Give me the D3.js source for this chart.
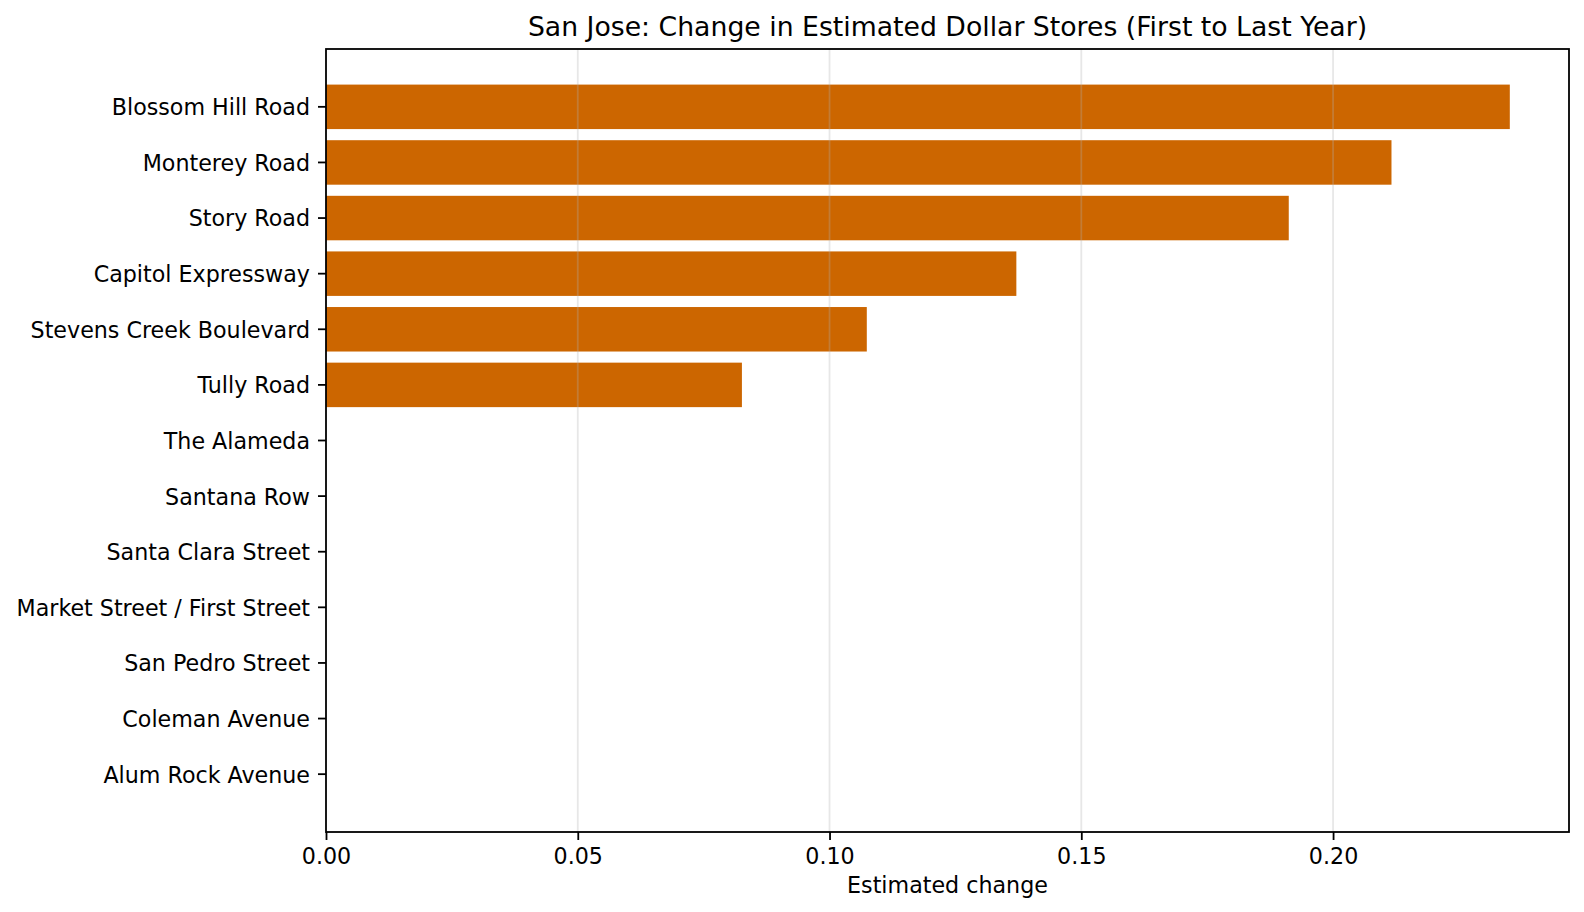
<!DOCTYPE html>
<html lang="en">
<head>
  <meta charset="UTF-8">
  <title>San Jose: Change in Estimated Dollar Stores</title>
  <script src="https://d3js.org/d3.v7.min.js"></script>
  <style>
    body { margin: 0; background: #fff; }
    svg { display: block; font-family: "DejaVu Sans", sans-serif; }
    .axis path, .axis line { stroke: #000; stroke-width: 1.8; }
    .axis text { font-size: 22.2px; fill: #000; font-family: "DejaVu Sans", sans-serif; }
    .grid line { stroke: #b0b0b0; stroke-opacity: 0.3; stroke-width: 1.8; }
  </style>
</head>
<body>
  <svg id="chart" width="1584" height="912"></svg>
  <script>
    // data (top to bottom)
    const corridors = [
      "Blossom Hill Road", "Monterey Road", "Story Road", "Capitol Expressway",
      "Stevens Creek Boulevard", "Tully Road", "The Alameda", "Santana Row",
      "Santa Clara Street", "Market Street / First Street", "San Pedro Street",
      "Coleman Avenue", "Alum Rock Avenue"
    ];
    const changes = [0.2351, 0.2116, 0.1912, 0.1371, 0.1074, 0.0826, 0, 0, 0, 0, 0, 0, 0];
    const xTicks = [0, 0.05, 0.10, 0.15, 0.20];

    const titleText = "San Jose: Change in Estimated Dollar Stores (First to Last Year)";
    const xLabel = "Estimated change";

    const plot = { left: 326, right: 1569, top: 49, bottom: 832 };
    const svg = d3.select("#chart");

    const rows = corridors.map((name, i) => ({ name, value: changes[i] }));

    const x = d3.scaleLinear()
      .domain([0, d3.max(changes) * 1.05])
      .range([plot.left, plot.right]);

    const y = d3.scaleBand()
      .domain(corridors)
      .range([plot.top, plot.bottom])
      .paddingInner(0.2)
      .paddingOuter(0.64);

    // bars
    svg.append("g")
      .selectAll("rect")
      .data(rows)
      .join("rect")
      .attr("x", x(0))
      .attr("y", d => y(d.name))
      .attr("width", d => x(d.value) - x(0))
      .attr("height", y.bandwidth())
      .attr("fill", "#cc6600");

    // vertical grid (drawn over bars, like the reference)
    svg.append("g")
      .attr("class", "grid")
      .selectAll("line")
      .data(xTicks.filter(t => t > 0))
      .join("line")
      .attr("x1", d => x(d)).attr("x2", d => x(d))
      .attr("y1", plot.top).attr("y2", plot.bottom);

    // axes
    const xAxis = svg.append("g")
      .attr("class", "axis")
      .attr("transform", `translate(0,${plot.bottom})`)
      .call(d3.axisBottom(x).tickValues(xTicks).tickFormat(d3.format(".2f"))
        .tickSize(8).tickSizeOuter(0).tickPadding(8));
    xAxis.select(".domain").remove();

    const yAxis = svg.append("g")
      .attr("class", "axis")
      .attr("transform", `translate(${plot.left},0)`)
      .call(d3.axisLeft(y).tickSize(8).tickSizeOuter(0).tickPadding(8));
    yAxis.select(".domain").remove();
    yAxis.selectAll("text").attr("dy", "0.38em");

    // frame
    svg.append("rect")
      .attr("x", plot.left).attr("y", plot.top)
      .attr("width", plot.right - plot.left)
      .attr("height", plot.bottom - plot.top)
      .attr("fill", "none")
      .attr("stroke", "#000")
      .attr("stroke-width", 1.8);

    // title and axis label
    svg.append("text")
      .attr("x", (plot.left + plot.right) / 2)
      .attr("y", 36)
      .attr("text-anchor", "middle")
      .attr("font-size", 26.7)
      .attr("fill", "#000")
      .text(titleText);

    svg.append("text")
      .attr("x", (plot.left + plot.right) / 2)
      .attr("y", 893)
      .attr("text-anchor", "middle")
      .attr("font-size", 22.2)
      .attr("fill", "#000")
      .text(xLabel);
  </script>
</body>
</html>
